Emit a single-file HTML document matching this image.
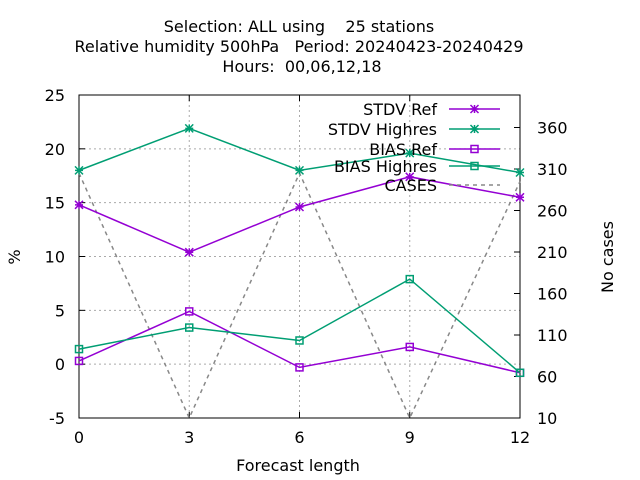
<!DOCTYPE html>
<html><head><meta charset="utf-8"><style>body{margin:0;background:#fff}svg{display:block;font-family:"DejaVu Sans","Liberation Sans",sans-serif}text{white-space:pre}</style></head><body>
<svg id="c" width="640" height="480"></svg>
<script>
const categories=[0,3,6,9,12];
const stdvRef=[14.8,10.4,14.6,17.4,15.5];
const stdvHighres=[18.0,21.9,18.0,19.6,17.8];
const biasRef=[0.3,4.9,-0.3,1.6,-0.8];
const biasHighres=[1.4,3.4,2.2,7.9,-0.8];
const cases=[305,10,305,10,295];
const yTicks=[-5,0,5,10,15,20,25];
const y2Ticks=[10,60,110,160,210,260,310,360];
const L=79,R=520,T=95,B=418;
const X=v=>L+(v-0)/(12-0)*(R-L);
const Y=v=>B-(v+5)/30*(B-T);
const Y2=v=>B-(v-10)/350*(B-127.5);
const s=document.getElementById('c');const NS='http://www.w3.org/2000/svg';
function mk(t,a,p){const e=document.createElementNS(NS,t);for(const k in a)e.setAttribute(k,a[k]);(p||s).appendChild(e);return e;}
function tx(x,y,str,anchor,name,extra){const e=mk('text',Object.assign({x:x,y:y,'font-size':16,'text-anchor':anchor||'middle',fill:'#000'},extra||{}));e.textContent=str;return e;}
tx(299,32,'Selection: ALL using    25 stations','middle','title-line1');
tx(299,52,'Relative humidity 500hPa   Period: 20240423-20240429','middle','title-line2');
tx(302,72,'Hours:  00,06,12,18','middle','title-line3');
const g=mk('g',{});
yTicks.forEach(v=>{const y=Y(v);if(v>-5&&v<25)mk('line',{x1:L,x2:R,y1:y,y2:y,stroke:'#aaa','stroke-dasharray':'2,3'},g);mk('line',{x1:L,x2:L+6,y1:y,y2:y,stroke:'#000'});tx(L-14,y+6,String(v),'end','y-tick-label');});
categories.forEach(v=>{const x=X(v);if(v>0&&v<12)mk('line',{x1:x,x2:x,y1:T,y2:B,stroke:'#aaa','stroke-dasharray':'2,3'},g);mk('line',{x1:x,x2:x,y1:B,y2:B-6,stroke:'#000'});mk('line',{x1:x,x2:x,y1:T,y2:T+6,stroke:'#000'});tx(x,443,String(v),'middle','x-tick-label');});
y2Ticks.forEach(v=>{const y=Y2(v);mk('line',{x1:R,x2:R-6,y1:y,y2:y,stroke:'#000'});tx(537,y+6,String(v),'start','y2-tick-label');});
const fr=mk('rect',{x:L,y:T,width:R-L,height:B-T,fill:'none',stroke:'#000'});
tx(298,471,'Forecast length','middle','x-axis-title');
tx(20,257,'%','middle','y-axis-title',{transform:'rotate(-90 20 257)'});
tx(613,257,'No cases','middle','y2-axis-title',{transform:'rotate(-90 613 257)'});
function series(vals,yf,color,marker,name,dash){const pts=vals.map((v,i)=>[X(categories[i]),yf(v)]);
const p=mk('polyline',{points:pts.map(p=>p.join(',')).join(' '),fill:'none',stroke:color,'stroke-width':1.5});if(dash)p.setAttribute('stroke-dasharray',dash);

pts.forEach(q=>drawMarker(q[0],q[1],color,marker,name));}
function drawMarker(x,y,color,marker,name){if(marker==='x'){const m=mk('path',{d:`M${x-4},${y-4}L${x+4},${y+4}M${x-4},${y+4}L${x+4},${y-4}M${x-4},${y}L${x+4},${y}M${x},${y-4}L${x},${y+4}`,stroke:color,'stroke-width':1.5});}
else if(marker==='s'){const m=mk('rect',{x:x-3.5,y:y-3.5,width:7,height:7,fill:'none',stroke:color,'stroke-width':1.5});}}
series(cases,Y2,'#888','none','cases','4,4');
series(stdvRef,Y,'#9400d3','x','stdv-ref');
series(stdvHighres,Y,'#009e73','x','stdv-highres');
series(biasRef,Y,'#9400d3','s','bias-ref');
series(biasHighres,Y,'#009e73','s','bias-highres');
const leg=[['STDV Ref','#9400d3','x',''],['STDV Highres','#009e73','x',''],['BIAS Ref','#9400d3','s',''],['BIAS Highres','#009e73','s',''],['CASES','#888','none','4,4']];
const ly=[109,129,149,166,185];
leg.forEach((e,i)=>{const y=ly[i];tx(437,y+6,e[0],'end','legend-label');const l=mk('line',{x1:449,x2:500,y1:y,y2:y,stroke:e[1],'stroke-width':1.5});if(e[3])l.setAttribute('stroke-dasharray',e[3]);drawMarker(474.5,y,e[1],e[2],'legend');});
</script>
</body></html>
